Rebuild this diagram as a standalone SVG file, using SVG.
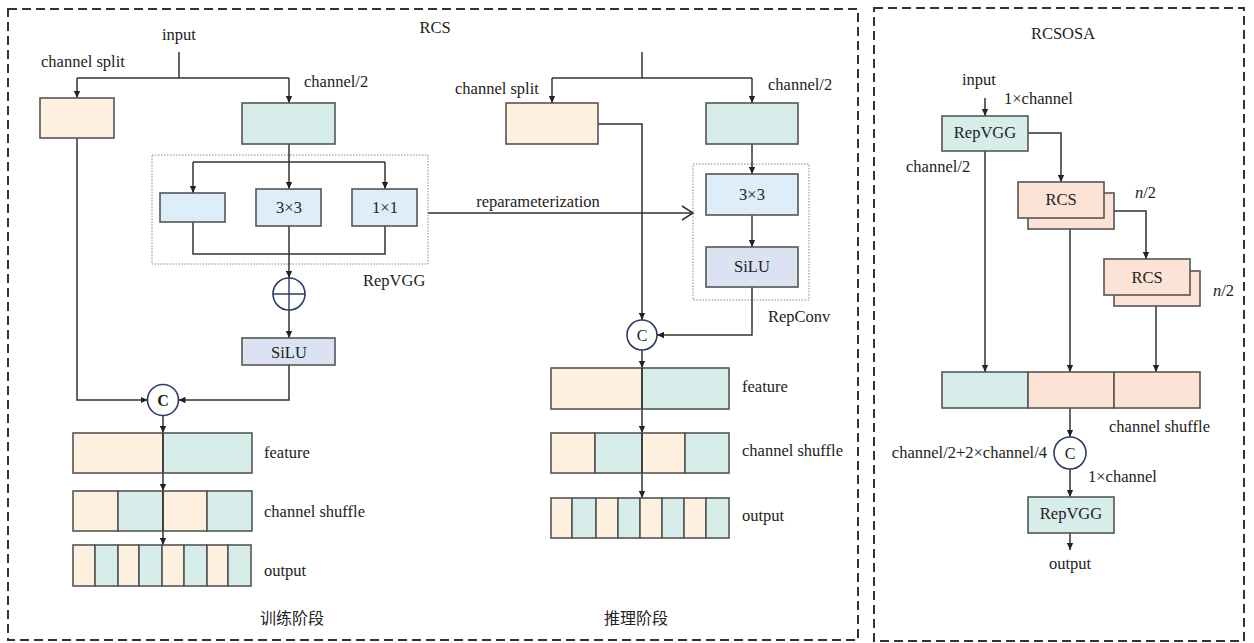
<svg xmlns="http://www.w3.org/2000/svg" width="1254" height="643" viewBox="0 0 1254 643">
<defs>
<marker id="arr" viewBox="0 0 10 10" refX="10" refY="5" markerWidth="7" markerHeight="7" markerUnits="userSpaceOnUse" orient="auto">
<path d="M0,0.5 L10,5 L0,9.5 z" fill="#222"/>
</marker>
<style>
text{font-family:"Liberation Serif","Times New Roman",serif;font-size:16.5px;fill:#222}
.cjk{font-family:"Liberation Serif","Noto Sans CJK SC",sans-serif;font-size:16px}
.mid{text-anchor:middle}
.bx{stroke:#555;stroke-width:1.6}
.or{fill:#fdf0de}
.te{fill:#d6ede9}
.lb{fill:#deeef9}
.si{fill:#dbe3f2}
.pe{fill:#fce3d5}
.dash{fill:none;stroke:#333;stroke-width:2;stroke-dasharray:9 5}
.dot{fill:none;stroke:#888;stroke-width:1;stroke-dasharray:1.5 1.5}
.ln{fill:none;stroke:#333;stroke-width:1.5}
.ar{marker-end:url(#arr)}
.circ{fill:#fff;stroke:#2b3a6b;stroke-width:1.6}
</style>
</defs>
<rect width="1254" height="643" fill="#fff"/>

<g id="frames">
<rect class="dash" x="8" y="9" width="850" height="631"/>
<rect class="dash" x="874" y="8" width="370" height="633"/>
<rect class="dot" x="152" y="155" width="276" height="109"/>
<rect class="dot" x="693" y="164" width="116" height="136"/>
</g>

<g id="connectors">
<!-- left training -->
<path class="ln" d="M179,52 V78"/>
<path class="ln" d="M77,78 H289"/>
<path class="ln ar" d="M77,78 V98"/>
<path class="ln ar" d="M289,78 V103"/>
<path class="ln ar" d="M289,144 V189"/>
<path class="ln" d="M193,162 H385"/>
<path class="ln ar" d="M193,162 V193"/>
<path class="ln ar" d="M385,162 V189"/>
<path class="ln" d="M193,222 V254 H385 V226"/>
<path class="ln ar" d="M289,226 V278"/>
<path class="ln ar" d="M289,310 V338"/>
<path class="ln ar" d="M289,365 V400 H178.5"/>
<path class="ln ar" d="M77,138 V400 H147.5"/>
<path class="ln ar" d="M163,416 V433"/>
<path class="ln ar" d="M163,473 V491"/>
<path class="ln ar" d="M163,531 V545"/>
<!-- middle inference -->
<path class="ln" d="M642,52 V78"/>
<path class="ln" d="M552,78 H752"/>
<path class="ln ar" d="M552,78 V103"/>
<path class="ln ar" d="M752,78 V103"/>
<path class="ln ar" d="M598,124 H642 V320"/>
<path class="ln ar" d="M752,144 V174"/>
<path class="ln ar" d="M752,215 V247"/>
<path class="ln ar" d="M752,287 V335 H657"/>
<path class="ln ar" d="M642,350 V368"/>
<path class="ln ar" d="M642,409 V433"/>
<path class="ln ar" d="M642,473 V498"/>
<path class="ln" d="M428,213 H693"/>
<path class="ln" d="M682,206 L693,213 L682,220"/>
<!-- right RCSOSA -->
<path class="ln ar" d="M985,98 V116"/>
<path class="ln ar" d="M1028,133 H1061 V182"/>
<path class="ln ar" d="M1114,211 H1146 V259"/>
<path class="ln ar" d="M985,151 V372"/>
<path class="ln ar" d="M1070,229 V372"/>
<path class="ln ar" d="M1156,306 V372"/>
<path class="ln ar" d="M1070,408 V437"/>
<path class="ln ar" d="M1070,469 V497"/>
<path class="ln ar" d="M1070,533 V550"/>
</g>

<g id="train-split"><rect class="bx or" x="40" y="98" width="74" height="40"/></g>
<g id="train-half"><rect class="bx te" x="242" y="103" width="93" height="41"/></g>
<g id="train-b1"><rect class="bx lb" x="160" y="193" width="65" height="29"/></g>
<g id="train-b3"><rect class="bx lb" x="256" y="189" width="65" height="37"/><text class="mid" x="289" y="213">3×3</text></g>
<g id="train-b1x1"><rect class="bx lb" x="352" y="189" width="65" height="37"/><text class="mid" x="385" y="213">1×1</text></g>
<g id="train-add">
<circle class="circ" cx="289" cy="294" r="16"/>
<path d="M273,294 H305 M289,278 V310" stroke="#2b3a6b" stroke-width="1.4"/>
</g>
<g id="train-silu"><rect class="bx si" x="242" y="338" width="93" height="27"/><text class="mid" x="289" y="358">SiLU</text></g>
<g id="train-concat"><circle class="circ" cx="163" cy="400" r="15.5"/><text class="mid" x="163" y="406" style="font-weight:bold;font-size:16px">C</text></g>
<g id="train-feature">
<rect class="bx or" x="73" y="433" width="90" height="40"/>
<rect class="bx te" x="163" y="433" width="89" height="40"/>
</g>
<g id="train-shuffle">
<rect class="bx or" x="73" y="491" width="45" height="40"/>
<rect class="bx te" x="118" y="491" width="45" height="40"/>
<rect class="bx or" x="163" y="491" width="44" height="40"/>
<rect class="bx te" x="207" y="491" width="45" height="40"/>
</g>
<g id="train-output">
<rect class="bx or" x="73" y="545" width="22" height="41"/>
<rect class="bx te" x="95" y="545" width="23" height="41"/>
<rect class="bx or" x="118" y="545" width="21" height="41"/>
<rect class="bx te" x="139" y="545" width="23" height="41"/>
<rect class="bx or" x="162" y="545" width="22" height="41"/>
<rect class="bx te" x="184" y="545" width="23" height="41"/>
<rect class="bx or" x="207" y="545" width="21" height="41"/>
<rect class="bx te" x="228" y="545" width="23" height="41"/>
</g>
<path class="ln" d="M163,433 V473 M163,491 V531"/>

<g id="inf-split"><rect class="bx or" x="506" y="103" width="92" height="41"/></g>
<g id="inf-half"><rect class="bx te" x="706" y="103" width="92" height="41"/></g>
<g id="inf-b3"><rect class="bx lb" x="706" y="174" width="92" height="41"/><text class="mid" x="752" y="200">3×3</text></g>
<g id="inf-silu"><rect class="bx si" x="706" y="247" width="92" height="40"/><text class="mid" x="752" y="272">SiLU</text></g>
<g id="inf-concat"><circle class="circ" cx="642" cy="335" r="15"/><text class="mid" x="642" y="341" style="font-size:16px">C</text></g>
<g id="inf-feature">
<rect class="bx or" x="551" y="368" width="91" height="41"/>
<rect class="bx te" x="642" y="368" width="87" height="41"/>
</g>
<g id="inf-shuffle">
<rect class="bx or" x="551" y="433" width="44" height="40"/>
<rect class="bx te" x="595" y="433" width="47" height="40"/>
<rect class="bx or" x="642" y="433" width="43" height="40"/>
<rect class="bx te" x="685" y="433" width="44" height="40"/>
</g>
<g id="inf-output">
<rect class="bx or" x="551" y="498" width="21" height="40"/>
<rect class="bx te" x="572" y="498" width="24" height="40"/>
<rect class="bx or" x="596" y="498" width="22" height="40"/>
<rect class="bx te" x="618" y="498" width="22" height="40"/>
<rect class="bx or" x="640" y="498" width="22" height="40"/>
<rect class="bx te" x="662" y="498" width="22" height="40"/>
<rect class="bx or" x="684" y="498" width="22" height="40"/>
<rect class="bx te" x="706" y="498" width="23" height="40"/>
</g>
<path class="ln" d="M642,368 V409 M642,433 V473"/>

<g id="osa-repvgg1"><rect class="bx te" x="942" y="116" width="86" height="35"/><text class="mid" x="985" y="138">RepVGG</text></g>
<g id="osa-rcs1">
<rect class="bx pe" x="1028" y="193" width="86" height="36"/>
<rect class="bx pe" x="1018" y="182" width="86" height="36"/>
<text class="mid" x="1061" y="205">RCS</text>
</g>
<g id="osa-rcs2">
<rect class="bx pe" x="1114" y="271" width="86" height="35"/>
<rect class="bx pe" x="1104" y="259" width="86" height="36"/>
<text class="mid" x="1147" y="283">RCS</text>
</g>
<g id="osa-concatbar">
<rect class="bx te" x="942" y="372" width="86" height="36"/>
<rect class="bx pe" x="1028" y="372" width="86" height="36"/>
<rect class="bx pe" x="1114" y="372" width="86" height="36"/>
</g>
<g id="osa-concat"><circle class="circ" cx="1070" cy="453" r="16"/><text class="mid" x="1070" y="459" style="font-size:16px">C</text></g>
<g id="osa-repvgg2"><rect class="bx te" x="1028" y="497" width="86" height="36"/><text class="mid" x="1071" y="519">RepVGG</text></g>

<g id="labels">
<text class="mid" x="435" y="33">RCS</text>
<text class="mid" x="179" y="40">input</text>
<text x="41" y="67">channel split</text>
<text x="304" y="87">channel/2</text>
<text x="363" y="286">RepVGG</text>
<text x="264" y="458">feature</text>
<text x="264" y="517">channel shuffle</text>
<text x="264" y="576">output</text>
<text class="cjk mid" x="292" y="624">训练阶段</text>
<text x="455" y="94">channel split</text>
<text x="768" y="90">channel/2</text>
<text class="mid" x="538" y="207">reparameterization</text>
<text x="768" y="322">RepConv</text>
<text x="742" y="392">feature</text>
<text x="742" y="456">channel shuffle</text>
<text x="742" y="521">output</text>
<text class="cjk mid" x="636" y="624">推理阶段</text>
<text class="mid" x="1063" y="39">RCSOSA</text>
<text class="mid" x="979" y="85">input</text>
<text x="1004" y="104">1×channel</text>
<text x="906" y="172">channel/2</text>
<text x="1135" y="198"><tspan font-style="italic">n</tspan>/2</text>
<text x="1213" y="296"><tspan font-style="italic">n</tspan>/2</text>
<text x="1109" y="432">channel shuffle</text>
<text x="1047" y="458" text-anchor="end">channel/2+2×channel/4</text>
<text x="1088" y="482">1×channel</text>
<text class="mid" x="1070" y="569">output</text>
</g>
</svg>
